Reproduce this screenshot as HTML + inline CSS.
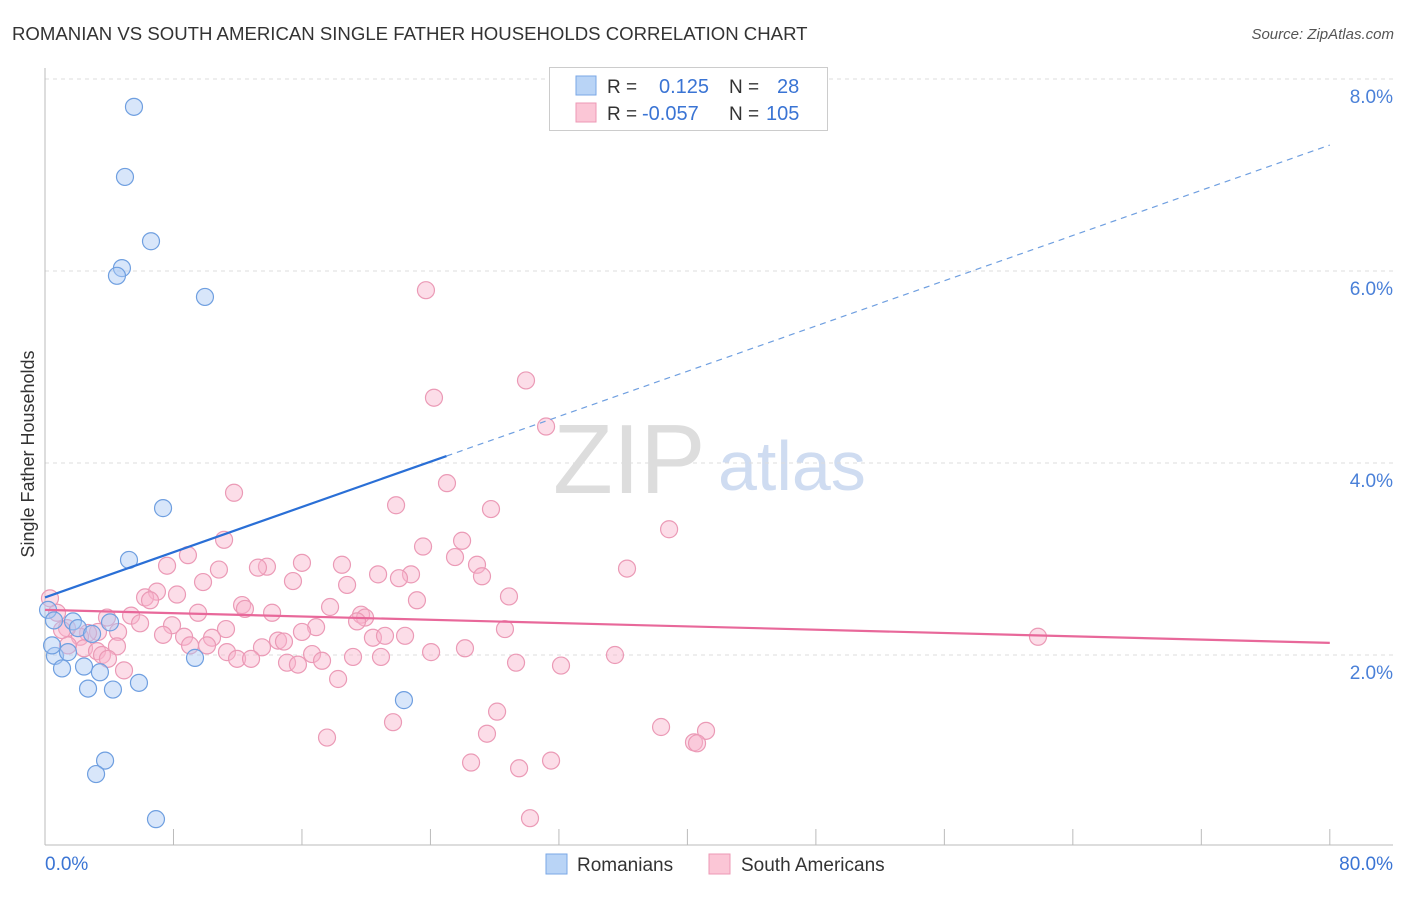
<!DOCTYPE html>
<html><head><meta charset="utf-8"><style>
body{margin:0;background:#fff;font-family:"Liberation Sans",sans-serif;}
svg text{font-family:"Liberation Sans",sans-serif;}
</style></head><body>
<svg id="chart" width="1406" height="892" viewBox="0 0 1406 892">
<text x="12" y="40" font-size="18.6" fill="#333">ROMANIAN VS SOUTH AMERICAN SINGLE FATHER HOUSEHOLDS CORRELATION CHART</text>
<text x="1394" y="39" font-size="15" fill="#555" font-style="italic" text-anchor="end">Source: ZipAtlas.com</text>
<text transform="translate(34,454) rotate(-90)" font-size="18" fill="#333" text-anchor="middle">Single Father Households</text>
<g>
<text x="553" y="493" font-size="98" fill="#ddd" font-family="Liberation Serif,serif">ZIP</text>
<text x="718" y="490" font-size="70" fill="#cfdcf1">atlas</text>
</g>
<g id="grid"></g><g id="axes"></g><g id="pts"></g><g id="lines"></g>
<g>
<rect x="549.5" y="67.5" width="278" height="63" fill="#fff" stroke="#ccc"/>
<rect x="576" y="76" width="20" height="19" fill="#b9d4f6" stroke="#7aa7e6"/>
<rect x="576" y="103" width="20" height="19" fill="#fbc6d6" stroke="#ee98b5"/>
<text x="607" y="93" font-size="19" fill="#333">R =</text>
<text x="659" y="93" font-size="20" fill="#3a74d4">0.125</text>
<text x="729" y="93" font-size="19" fill="#333">N =</text>
<text x="777" y="93" font-size="20" fill="#3a74d4">28</text>
<text x="607" y="120" font-size="19" fill="#333">R =</text>
<text x="642" y="120" font-size="20" fill="#3a74d4">-0.057</text>
<text x="729" y="120" font-size="19" fill="#333">N =</text>
<text x="766" y="120" font-size="20" fill="#3a74d4">105</text>
</g>
<g>
<rect x="546" y="854" width="21" height="20" fill="#b9d4f6" stroke="#7aa7e6"/>
<text x="577" y="871" font-size="19" fill="#333">Romanians</text>
<rect x="709" y="854" width="21" height="20" fill="#fbc6d6" stroke="#ee98b5"/>
<text x="741" y="871" font-size="19" fill="#333">South Americans</text>
</g>
</svg>
<script>
const yTicks=[2,4,6,8];
const yTickLabels=["2.0%","4.0%","6.0%","8.0%"];
const xTickLabels=["0.0%","80.0%"];
const blueX=[5.54,4.98,6.60,4.79,4.48,9.96,7.35,5.23,0.19,0.56,1.74,2.05,2.93,4.05,0.62,1.43,1.06,2.43,3.42,2.68,4.23,5.85,9.34,22.35,3.74,3.18,6.91,0.44];
const blueY=[7.71,6.98,6.31,6.03,5.95,5.73,3.53,2.99,2.47,2.36,2.35,2.28,2.22,2.34,1.99,2.03,1.86,1.88,1.82,1.65,1.64,1.71,1.97,1.53,0.90,0.76,0.29,2.10];
const pinkX=[23.72,29.95,24.22,31.20,11.77,25.03,21.86,27.77,38.86,11.15,8.90,23.54,25.97,25.53,16.00,18.49,13.82,13.26,10.83,7.60,26.90,36.24,20.74,22.79,22.04,27.21,15.44,18.81,9.84,6.97,8.22,6.23,6.54,28.89,23.16,17.75,12.27,12.45,9.53,14.14,19.68,19.93,5.36,19.43,3.86,5.92,7.91,16.88,28.64,11.27,16.00,7.35,8.66,10.40,4.55,3.30,2.68,2.18,22.42,20.42,21.17,1.37,9.03,13.51,14.51,14.88,10.09,4.48,2.43,3.24,3.55,11.33,26.15,24.04,16.63,19.18,11.96,12.83,15.07,15.75,20.92,17.25,3.92,29.33,32.13,35.49,4.92,18.25,21.67,28.15,38.36,41.16,27.52,17.56,40.41,40.60,26.53,29.52,31.51,30.20,61.83,0.31,0.75,1.06,1.43];
const pinkY=[5.80,4.86,4.68,4.38,3.69,3.79,3.56,3.52,3.31,3.20,3.04,3.13,3.19,3.02,2.96,2.94,2.92,2.91,2.89,2.93,2.94,2.90,2.84,2.84,2.80,2.82,2.77,2.73,2.76,2.66,2.63,2.60,2.57,2.61,2.57,2.50,2.52,2.48,2.44,2.44,2.42,2.39,2.41,2.35,2.39,2.33,2.31,2.29,2.27,2.27,2.24,2.21,2.19,2.18,2.24,2.24,2.23,2.19,2.20,2.18,2.20,2.28,2.10,2.08,2.15,2.14,2.10,2.09,2.07,2.04,2.00,2.03,2.07,2.03,2.01,1.98,1.96,1.96,1.92,1.90,1.98,1.94,1.96,1.92,1.89,2.00,1.84,1.75,1.30,1.41,1.25,1.21,1.18,1.14,1.09,1.08,0.88,0.82,0.90,0.30,2.19,2.59,2.44,2.26,2.10];
const blueTrend=[2.60,0.0589];   // intercept, slope
const pinkTrend=[2.47,-0.0043];
const NS="http://www.w3.org/2000/svg";
const X=v=>45+v*16.06, Y=v=>847-v*96;
function mk(tag,attrs,parent){const e=document.createElementNS(NS,tag);for(const k in attrs)e.setAttribute(k,attrs[k]);document.getElementById(parent).appendChild(e);return e;}
yTicks.forEach((t,i)=>{
 const g=mk('line',{x1:45,x2:1393,y1:Y(t),y2:Y(t),stroke:'#ddd','stroke-dasharray':'4,4'},'grid');
 
 
 const l=mk('text',{x:1393,y:Y(t)+24,'font-size':19,fill:'#4a80d8','text-anchor':'end'},'grid');
 l.textContent=yTickLabels[i];
 
 
});
let a=mk('line',{x1:45,x2:45,y1:68,y2:845,stroke:'#bbb'},'axes');


a=mk('line',{x1:45,x2:1393,y1:845,y2:845,stroke:'#bbb'},'axes');


for(let i=1;i<=10;i++){const t=mk('line',{x1:X(i*8),x2:X(i*8),y1:829,y2:845,stroke:'#bbb'},'axes');
 
 }
[[0,'start',45],[80,'end',1393]].forEach((d,i)=>{const t=mk('text',{x:d[2],y:870,'font-size':19,fill:'#3a74d4','text-anchor':d[1]},'axes');t.textContent=xTickLabels[i];
 
 });
pinkX.forEach((x,i)=>{const c=mk('circle',{cx:X(x),cy:Y(pinkY[i]),r:8.5,fill:'rgba(248,180,203,0.45)',stroke:'#eb9ab6','stroke-width':1.2},'pts');
 
 });
blueX.forEach((x,i)=>{const c=mk('circle',{cx:X(x),cy:Y(blueY[i]),r:8.5,fill:'rgba(168,200,243,0.45)',stroke:'#6f9fe0','stroke-width':1.2},'pts');
 
 });
const bt=x=>blueTrend[0]+blueTrend[1]*x, pt=x=>pinkTrend[0]+pinkTrend[1]*x;
let ln=mk('line',{x1:X(0),y1:Y(bt(0)),x2:X(25),y2:Y(bt(25)),stroke:'#2a6fd6','stroke-width':2.2},'lines');


ln=mk('line',{x1:X(25),y1:Y(bt(25)),x2:X(80),y2:Y(bt(80)),stroke:'#6f9fe0','stroke-width':1.2,'stroke-dasharray':'6,5'},'lines');


ln=mk('line',{x1:X(0),y1:Y(pt(0)),x2:X(80),y2:Y(pt(80)),stroke:'#e8689a','stroke-width':2.2},'lines');


</script>
</body></html>
